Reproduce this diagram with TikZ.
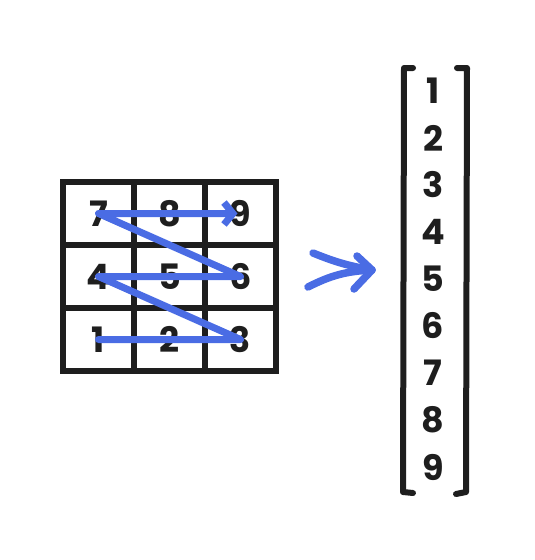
\documentclass[tikz,border=0pt]{standalone}
\usepackage{fontspec}
\setmainfont{Poppins}
\usepackage{xcolor}
\usepackage{tikz}
\usetikzlibrary{arrows.meta,positioning,calc}
\definecolor{scanblue}{RGB}{74,108,228}
\definecolor{ink}{RGB}{30,30,30}
\tikzset{
  cell/.style={rectangle, draw=ink, line width=6pt, outer sep=0pt, inner sep=0pt,
    minimum width=71pt, minimum height=63pt, text=ink,
    font=\fontsize{35}{35}\selectfont\bfseries},
  num/.style={rectangle, inner sep=0pt, outer sep=0pt, minimum height=30pt, text=ink,
    font=\fontsize{35}{35}\selectfont\bfseries},
  bracket/.style={draw=ink, line width=6pt, line cap=round, line join=round},
  scan/.style={draw=scanblue, line width=7pt, line cap=round, line join=round,
    -{Straight Barb[length=9pt, width=22pt, line width=7pt]}},
  bigarr/.style={draw=scanblue, line width=7.5pt, line cap=round, line join=round},
}
\begin{document}
\begin{tikzpicture}[x=1pt, y=-1pt]
  \useasboundingbox (0,0) rectangle (535,560);
  % ── the 3x3 grid, top row first ──────────────────────────────────
  \node[cell] (c7) at (98.5,213.5) {7};
  \node[cell, right=0pt of c7] (c8) {8};
  \node[cell, right=0pt of c8] (c9) {9};
  \node[cell, below=0pt of c7] (c4) {4};
  \node[cell, right=0pt of c4] (c5) {5};
  \node[cell, right=0pt of c5] (c6) {6};
  \node[cell, below=0pt of c4] (c1) {1};
  \node[cell, right=0pt of c1] (c2) {2};
  \node[cell, right=0pt of c2] (c3) {3};
  % ── scan order (zig-zag) ─────────────────────────────────────────
  \draw[scan] (c1.center) -- (c3.center) -- (c4.center) -- (c6.center)
    -- (c7.center) -- ($(c9.center)+(-3,0)$);
  % ── flatten arrow ────────────────────────────────────────────────
  \coordinate (tip)     at (372,270);
  \coordinate (tailup)  at (313,253);
  \coordinate (taillow) at (308,287);
  \coordinate (headup)  at (357,256);
  \coordinate (headlow) at (354,289);
  \draw[bigarr] (tailup) to[bend right=6] (tip);
  \draw[bigarr] (taillow) to[bend left=12] (tip);
  \draw[bigarr] (headup) -- (tip) -- (headlow);
  % ── column vector ────────────────────────────────────────────────
  \node[num] (v1) at (433,91) {1};
  \node[num, below=17pt of v1] (v2) {2};
  \node[num, below=17pt of v2] (v3) {3};
  \node[num, below=17pt of v3] (v4) {4};
  \node[num, below=17pt of v4] (v5) {5};
  \node[num, below=17pt of v5] (v6) {6};
  \node[num, below=17pt of v6] (v7) {7};
  \node[num, below=17pt of v7] (v8) {8};
  \node[num, below=17pt of v8] (v9) {9};
  % brackets
  \draw[bracket] (413,68) -- (404,68) -- (403,492) -- (413,493);
  \draw[bracket] (457,68) -- (467,68) -- (466,492) -- (456,494);
\end{tikzpicture}
\end{document}
